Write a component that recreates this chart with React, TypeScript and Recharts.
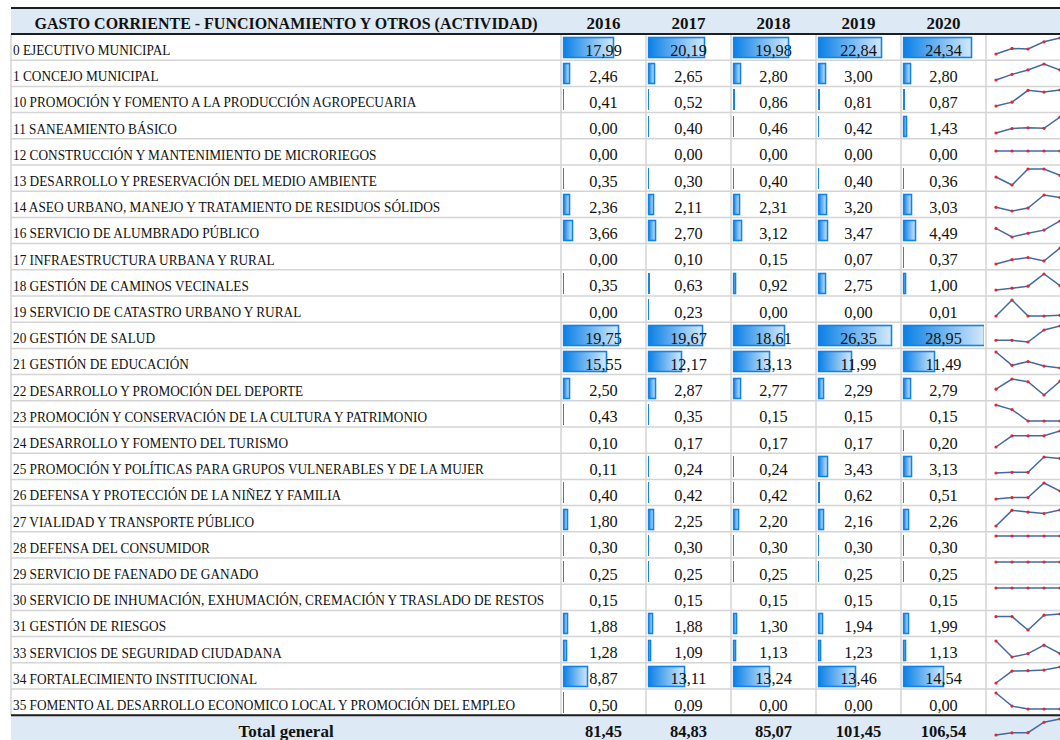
import React from 'react';
import { BarChart, Bar, XAxis, YAxis, LineChart, Line } from 'recharts';

const YEARS = ['2016', '2017', '2018', '2019', '2020'];

const CATEGORIES = [
  '0 EJECUTIVO MUNICIPAL',
  '1 CONCEJO MUNICIPAL',
  '10 PROMOCIÓN Y FOMENTO A LA PRODUCCIÓN AGROPECUARIA',
  '11 SANEAMIENTO BÁSICO',
  '12 CONSTRUCCIÓN Y MANTENIMIENTO DE MICRORIEGOS',
  '13 DESARROLLO Y PRESERVACIÓN DEL MEDIO AMBIENTE',
  '14 ASEO URBANO, MANEJO Y TRATAMIENTO DE RESIDUOS SÓLIDOS',
  '16 SERVICIO DE ALUMBRADO PÚBLICO',
  '17 INFRAESTRUCTURA URBANA Y RURAL',
  '18 GESTIÓN DE CAMINOS VECINALES',
  '19 SERVICIO DE CATASTRO URBANO Y RURAL',
  '20 GESTIÓN DE SALUD',
  '21 GESTIÓN DE EDUCACIÓN',
  '22 DESARROLLO Y PROMOCIÓN DEL DEPORTE',
  '23 PROMOCIÓN Y CONSERVACIÓN DE LA CULTURA Y PATRIMONIO',
  '24 DESARROLLO Y FOMENTO DEL TURISMO',
  '25 PROMOCIÓN Y POLÍTICAS PARA GRUPOS VULNERABLES Y DE LA MUJER',
  '26 DEFENSA Y PROTECCIÓN DE LA NIÑEZ Y FAMILIA',
  '27 VIALIDAD Y TRANSPORTE PÚBLICO',
  '28 DEFENSA DEL CONSUMIDOR',
  '29 SERVICIO DE FAENADO DE GANADO',
  '30 SERVICIO DE INHUMACIÓN, EXHUMACIÓN, CREMACIÓN Y TRASLADO DE RESTOS',
  '31 GESTIÓN DE RIESGOS',
  '33 SERVICIOS DE SEGURIDAD CIUDADANA',
  '34 FORTALECIMIENTO INSTITUCIONAL',
  '35 FOMENTO AL DESARROLLO ECONOMICO LOCAL Y PROMOCIÓN DEL EMPLEO',
];

const VALUES_2016 = [17.99, 2.46, 0.41, 0.0, 0.0, 0.35, 2.36, 3.66, 0.0, 0.35, 0.0, 19.75, 15.55, 2.5, 0.43, 0.1, 0.11, 0.4, 1.8, 0.3, 0.25, 0.15, 1.88, 1.28, 8.87, 0.5];
const VALUES_2017 = [20.19, 2.65, 0.52, 0.4, 0.0, 0.3, 2.11, 2.7, 0.1, 0.63, 0.23, 19.67, 12.17, 2.87, 0.35, 0.17, 0.24, 0.42, 2.25, 0.3, 0.25, 0.15, 1.88, 1.09, 13.11, 0.09];
const VALUES_2018 = [19.98, 2.8, 0.86, 0.46, 0.0, 0.4, 2.31, 3.12, 0.15, 0.92, 0.0, 18.61, 13.13, 2.77, 0.15, 0.17, 0.24, 0.42, 2.2, 0.3, 0.25, 0.15, 1.3, 1.13, 13.24, 0.0];
const VALUES_2019 = [22.84, 3.0, 0.81, 0.42, 0.0, 0.4, 3.2, 3.47, 0.07, 2.75, 0.0, 26.35, 11.99, 2.29, 0.15, 0.17, 3.43, 0.62, 2.16, 0.3, 0.25, 0.15, 1.94, 1.23, 13.46, 0.0];
const VALUES_2020 = [24.34, 2.8, 0.87, 1.43, 0.0, 0.36, 3.03, 4.49, 0.37, 1.0, 0.01, 28.95, 11.49, 2.79, 0.15, 0.2, 3.13, 0.51, 2.26, 0.3, 0.25, 0.15, 1.99, 1.13, 14.54, 0.0];
const TOTALS = [81.45, 84.83, 85.07, 101.45, 106.54];

const TITLE = 'GASTO CORRIENTE - FUNCIONAMIENTO Y OTROS (ACTIVIDAD)';
const TOTAL_LABEL = 'Total general';

const SERIES = [VALUES_2016, VALUES_2017, VALUES_2018, VALUES_2019, VALUES_2020];
const BAR_MAX = Math.max(...SERIES.flat());

const W = 1060;
const H = 740;
const LEFT = 11;
const LABEL_RIGHT = 561;
const COL_W = 85;
const SPARK_X = 986;
const HEADER_TOP = 8;
const HEADER_BOTTOM = 34;
const RH = 26.2;
const N = CATEGORIES.length;
const TOTAL_TOP = HEADER_BOTTOM + N * RH;

const SERIF = '"Liberation Serif", "Times New Roman", serif';

const fmt = (v: number) => v.toFixed(2).replace('.', ',');

const rows = CATEGORIES.map((name, i) => {
  const r: any = { name };
  YEARS.forEach((y, j) => {
    r['y' + y] = SERIES[j][i];
  });
  return r;
});

const DataBarShape = (props: any) => {
  const { x, y, width, height } = props;
  const w = Math.round(width);
  if (!w || w < 1) return null;
  const yy = Math.round(y);
  const hh = Math.round(height);
  if (w <= 2) {
    return <rect x={Math.round(x)} y={yy} width={w} height={hh} fill="#1685e8" />;
  }
  return (
    <g>
      <rect x={Math.round(x) + 0.5} y={yy + 0.5} width={w - 1} height={hh - 1} fill="url(#dbGrad)" stroke="#1083ea" strokeWidth={1.6} />
    </g>
  );
};

const YearBars = ({ year, index }: { year: string; index: number }) => (
  <div style={{ position: 'absolute', left: LABEL_RIGHT + index * COL_W, top: HEADER_BOTTOM, width: COL_W, height: N * RH }}>
    <BarChart
      width={COL_W}
      height={N * RH}
      data={rows}
      layout="vertical"
      margin={{ top: 0, right: 2, bottom: 0, left: 1.5 }}
      barCategoryGap={0}
    >
      <defs>
        <linearGradient id="dbGrad" x1="0" y1="0" x2="1" y2="0">
          <stop offset="0%" stopColor="#0a80e6" />
          <stop offset="100%" stopColor="#d3e9fb" />
        </linearGradient>
      </defs>
      <XAxis type="number" domain={[0, BAR_MAX]} hide allowDataOverflow />
      <YAxis type="category" dataKey="name" hide />
      <Bar dataKey={'y' + year} barSize={21} shape={DataBarShape} isAnimationActive={false} />
    </BarChart>
  </div>
);

const Spark = ({ values, top }: { values: number[]; top: number }) => {
  const data = YEARS.map((y, j) => ({ year: y, value: values[j] }));
  const mn = Math.min(...values);
  const mx = Math.max(...values);
  const domain = mn === mx ? (mx === 0 ? [-1, 1] : [0, mx]) : [mn, mx];
  return (
    <div style={{ position: 'absolute', left: SPARK_X, top, width: 80, height: 26 }}>
      <LineChart width={80} height={26} data={data} margin={{ top: 4, right: 6, bottom: 6, left: 10 }}>
        <XAxis dataKey="year" hide />
        <YAxis hide domain={domain} />
        <Line
          type="linear"
          dataKey="value"
          stroke="#4468a3"
          strokeWidth={1.5}
          dot={{ r: 1.6, fill: '#e3262b', stroke: 'none' }}
          isAnimationActive={false}
        />
      </LineChart>
    </div>
  );
};

export default function App() {
  const colCenters = YEARS.map((_, j) => LABEL_RIGHT + j * COL_W + COL_W / 2);
  const vLines = [LEFT, LABEL_RIGHT, ...YEARS.map((_, j) => LABEL_RIGHT + (j + 1) * COL_W)];
  return (
    <div style={{ position: 'fixed', left: 0, top: 0, width: W, height: H, overflow: 'hidden', background: '#fff' }}>
      <svg width={W} height={H} style={{ position: 'absolute', left: 0, top: 0 }}>
        <rect x={LEFT} y={HEADER_TOP} width={W - LEFT} height={HEADER_BOTTOM - HEADER_TOP} fill="#dde9f5" />
        <rect x={LEFT} y={TOTAL_TOP} width={W - LEFT} height={H - TOTAL_TOP} fill="#dde9f5" />
        {CATEGORIES.map((_, i) => (
          <line key={'h' + i} x1={LEFT} x2={W} y1={HEADER_BOTTOM + (i + 1) * RH} y2={HEADER_BOTTOM + (i + 1) * RH} stroke="#d4d4d4" strokeWidth={1.5} />
        ))}
        {vLines.map((x, i) => (
          <line key={'v' + i} x1={x} x2={x} y1={HEADER_BOTTOM} y2={TOTAL_TOP} stroke="#d4d4d4" strokeWidth={1.5} />
        ))}
        <line x1={LEFT} x2={W} y1={HEADER_TOP} y2={HEADER_TOP} stroke="#1e1e1e" strokeWidth={2} />
        <line x1={LEFT} x2={W} y1={HEADER_BOTTOM} y2={HEADER_BOTTOM} stroke="#1e1e1e" strokeWidth={2} />
        <line x1={LEFT} x2={W} y1={TOTAL_TOP} y2={TOTAL_TOP} stroke="#1e1e1e" strokeWidth={2} />
      </svg>

      {YEARS.map((y, j) => (
        <YearBars key={y} year={y} index={j} />
      ))}

      {CATEGORIES.map((_, i) => (
        <Spark key={'s' + i} values={SERIES.map((s) => s[i])} top={HEADER_BOTTOM + i * RH} />
      ))}
      <Spark values={TOTALS} top={TOTAL_TOP} />

      <svg width={W} height={H} style={{ position: 'absolute', left: 0, top: 0, pointerEvents: 'none' }}>
        <g fontFamily={SERIF} fill="#111">
          <g transform={`translate(${(LEFT + LABEL_RIGHT) / 2}, 29) scale(0.94, 1)`}>
            <text textAnchor="middle" fontSize={17} fontWeight="bold">{TITLE}</text>
          </g>
          {YEARS.map((y, j) => (
            <text key={'hy' + y} x={colCenters[j]} y={29} textAnchor="middle" fontSize={17} fontWeight="bold">{y}</text>
          ))}
          {CATEGORIES.map((c, i) => (
            <g key={'l' + i} transform={`translate(13, ${HEADER_BOTTOM + i * RH + 21}) scale(0.886, 1)`}>
              <text fontSize={15}>{c}</text>
            </g>
          ))}
          {CATEGORIES.map((_, i) =>
            YEARS.map((y, j) => (
              <text key={'n' + i + '-' + j} x={colCenters[j]} y={HEADER_BOTTOM + i * RH + 21.5} textAnchor="middle" fontSize={16.3}>
                {fmt(SERIES[j][i])}
              </text>
            ))
          )}
          <text x={(LEFT + LABEL_RIGHT) / 2} y={TOTAL_TOP + 21.5} textAnchor="middle" fontSize={17} fontWeight="bold">{TOTAL_LABEL}</text>
          {TOTALS.map((t, j) => (
            <text key={'t' + j} x={colCenters[j]} y={TOTAL_TOP + 21.5} textAnchor="middle" fontSize={16.5} fontWeight="bold">{fmt(t)}</text>
          ))}
        </g>
      </svg>
    </div>
  );
}
